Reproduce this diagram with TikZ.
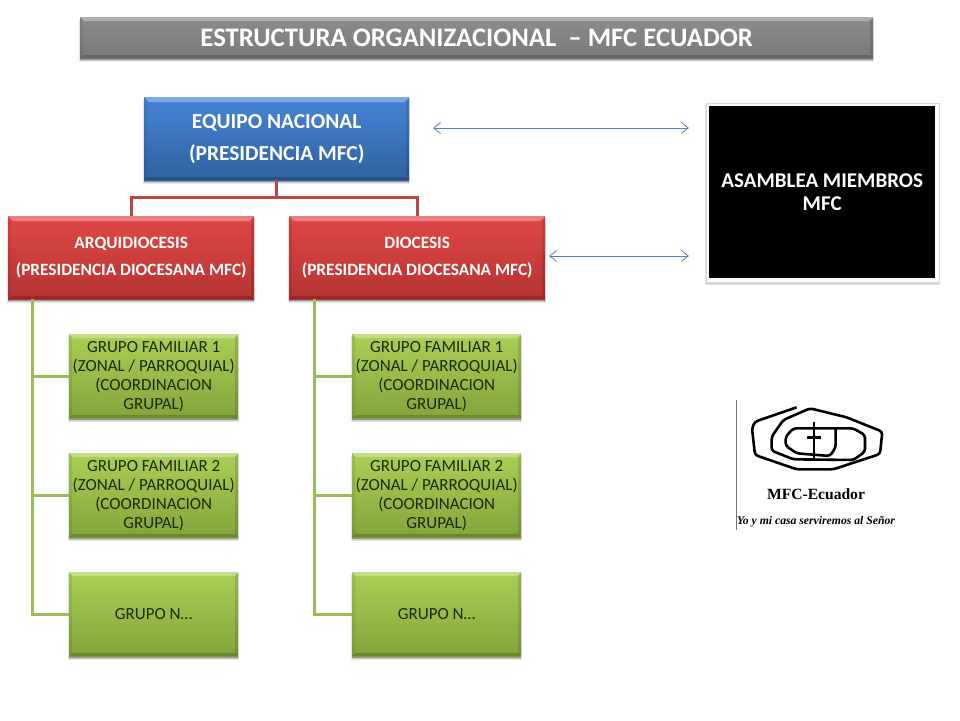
\documentclass[tikz,border=0pt]{standalone}
\usepackage{fontspec}
\setmainfont{Carlito}
\newfontfamily\logofont{Liberation Serif}
\usetikzlibrary{shadows,arrows.meta}

\definecolor{red2}{HTML}{E04846}
\definecolor{red3}{HTML}{B53331}
\definecolor{redline}{HTML}{BC4646}
\definecolor{blue2}{HTML}{4784D8}
\definecolor{blue3}{HTML}{2F629F}
\definecolor{green2}{HTML}{A9D055}
\definecolor{green3}{HTML}{82A53B}
\definecolor{greentext}{HTML}{1E2A08}
\definecolor{gray2}{HTML}{8C8C8C}
\definecolor{gray3}{HTML}{7A7A7A}
\definecolor{linegreen}{HTML}{9BBB59}
\definecolor{linkblue}{HTML}{4F81BD}

% biselado: franja clara arriba, bordes oscuros a los lados y abajo
\newcommand{\bisel}[1]{%
  \coordinate (nw) at (path picture bounding box.north west);
  \coordinate (ne) at (path picture bounding box.north east);
  \coordinate (sw) at (path picture bounding box.south west);
  \coordinate (se) at (path picture bounding box.south east);
  \fill[white, opacity=.3] (nw) -- (ne) -- ([xshift=-#1pt, yshift=-#1pt]ne) -- ([xshift=#1pt, yshift=-#1pt]nw) -- cycle;
  \fill[black, opacity=.18] (sw) -- (se) -- ([xshift=-3pt, yshift=3pt]se) -- ([xshift=3pt, yshift=3pt]sw) -- cycle;
  \fill[black, opacity=.12] (ne) -- (se) -- ([xshift=-3pt, yshift=3pt]se) -- ([xshift=-3pt, yshift=-#1pt]ne) -- cycle;
  \fill[black, opacity=.08] (nw) -- (sw) -- ([xshift=3pt, yshift=3pt]sw) -- ([xshift=3pt, yshift=-#1pt]nw) -- cycle;
}

\tikzset{
  caja/.style={rectangle, anchor=north west, align=center, inner sep=0pt,
    general shadow={shadow xshift=0pt, shadow yshift=-2.5pt, opacity=.1, fill=black, draw=black, line width=2pt},
    general shadow={shadow xshift=0pt, shadow yshift=-1.5pt, opacity=.35, fill=black}},
  titulo/.style={caja, top color=gray2, bottom color=gray3, text=white, path picture={\bisel{4}}},
  rojo/.style={caja, top color=red2, bottom color=red3, text=white, path picture={\bisel{5}}, font=\bfseries\fontsize{17.3}{27}\selectfont},
  azul/.style={caja, top color=blue2, bottom color=blue3, text=white, path picture={\bisel{5}}, font=\bfseries\fontsize{21.4}{32}\selectfont},
  verde/.style={caja, top color=green2, bottom color=green3, text=greentext, path picture={\bisel{4}}, font=\fontsize{17}{19}\selectfont},
  ramared/.style={redline, line width=3pt},
  ramagreen/.style={linegreen, line width=3pt},
  flecha/.style={linkblue, line width=.8pt, {Straight Barb[length=7pt,width=11pt]}-{Straight Barb[length=7pt,width=11pt]}}
}

\begin{document}
\begin{tikzpicture}[x=1pt, y=-1pt, line cap=butt, line join=miter]
\useasboundingbox (0,0) rectangle (960,720);

% titulo
\node[titulo, minimum width=793pt, minimum height=41pt, font=\bfseries\fontsize{26.7}{28}\selectfont] (titulo) at (80,17) {ESTRUCTURA ORGANIZACIONAL\ \ -- MFC ECUADOR};

% cajas principales
\node[azul, minimum width=265pt, minimum height=83pt] (nacional) at (144,97) {EQUIPO NACIONAL\\(PRESIDENCIA MFC)};
\node[rojo, minimum width=246pt, minimum height=83pt] (arqui) at (8,216) {ARQUIDIOCESIS\\(PRESIDENCIA DIOCESANA MFC)};
\node[rojo, minimum width=256pt, minimum height=83pt] (dioc) at (289,216) {DIOCESIS\\(PRESIDENCIA DIOCESANA MFC)};

% asamblea
\node[caja, fill=white, draw=black!15, line width=.4pt, minimum width=233pt, minimum height=179pt] (marco) at (705.5,102.5) {};
\node[rectangle, fill=black, text=white, align=center, minimum width=226pt, minimum height=172pt, font=\bfseries\fontsize{21}{23}\selectfont] (asamblea) at (marco.center) {ASAMBLEA MIEMBROS\\MFC};

% grupos, columna izquierda y derecha
\foreach \col/\xpos in {a/69,b/352}{
  \node[verde, minimum width=169pt, minimum height=84pt] (\col1) at (\xpos,334) {GRUPO FAMILIAR 1\\(ZONAL / PARROQUIAL)\\(COORDINACION\\GRUPAL)};
  \node[verde, minimum width=169pt, minimum height=84pt] (\col2) at (\xpos,453) {GRUPO FAMILIAR 2\\(ZONAL / PARROQUIAL)\\(COORDINACION\\GRUPAL)};
  \node[verde, minimum width=169pt, minimum height=84pt] (\col3) at (\xpos,572) {GRUPO N\ldots};
}

% conectores
\draw[ramared] (nacional.south) -- ++(0,17.5) coordinate (cruce);
\draw[ramared] (arqui.north) |- (cruce) -| (dioc.north);
\coordinate (arquibase) at (32,299);
\coordinate (diocbase) at (314.5,299);
\foreach \col/\base in {a/arquibase,b/diocbase}{
  \foreach \n in {1,2,3}{
    \draw[ramagreen] (\base) |- (\col\n.west);
  }
}
\coordinate (flechaA) at (433,128);
\coordinate (flechaB) at (689,128);
\coordinate (flechaC) at (549,256);
\coordinate (flechaD) at (689,256);
\draw[flecha] (flechaA) -- (flechaB);
\draw[flecha] (flechaC) -- (flechaD);

% logo
\draw[black!55, line width=.7pt] (736.7,400) -- (736.7,530);
\begin{scope}[shift={(720,390)}, x=.3333pt, y=-.3333pt, black, line width=2.6pt, rounded corners=3pt]
  \draw (230,52) -- (105,95) -- (96,115) -- (105,195) -- (230,238) -- (340,238) -- (480,192) -- (487,125) -- (380,82) -- (270,55) -- (190,90) -- (155,140) -- (155,182) -- (220,208) -- (400,210) -- (435,185) -- (435,135) -- (400,115) -- (220,115) -- (197,140) -- (197,167) -- (230,190) -- (330,198) -- (347,172) -- (347,115);
  \draw (282,95) -- (282,212);
  \draw (260,142) -- (302,142);
\end{scope}
\node[font=\logofont\bfseries\fontsize{15.6}{17}\selectfont, inner sep=0pt] (mfc) at (816,494) {MFC-Ecuador};
\node[font=\logofont\bfseries\itshape\fontsize{11.7}{13}\selectfont, inner sep=0pt] (lema) at (816,522) {Yo y mi casa serviremos al Señor};

\end{tikzpicture}
\end{document}
